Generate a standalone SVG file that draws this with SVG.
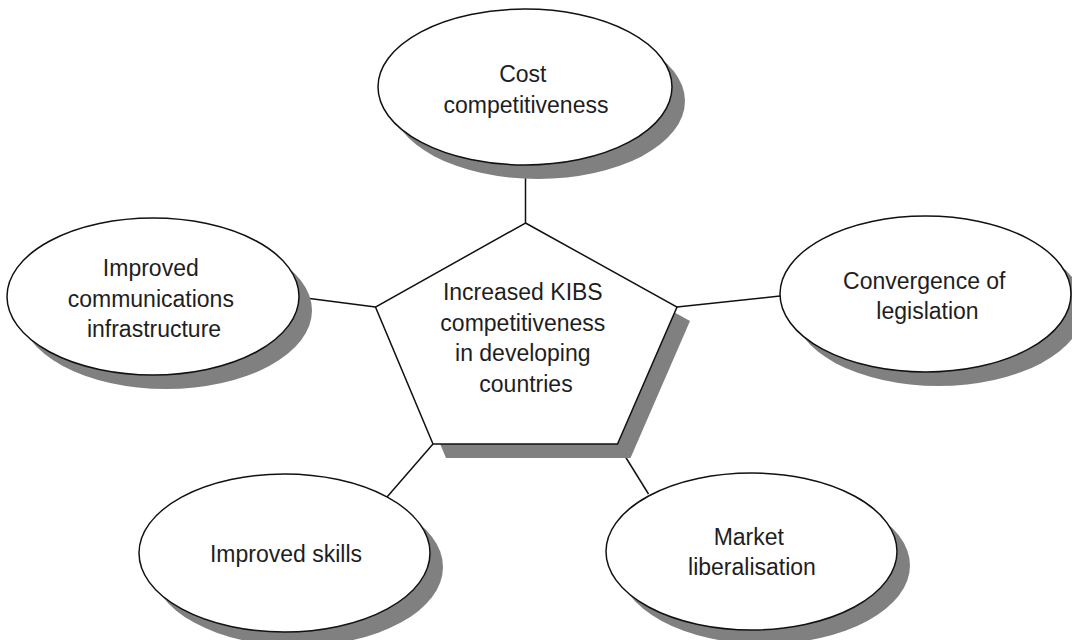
<svg xmlns="http://www.w3.org/2000/svg" width="1072" height="640" viewBox="0 0 1072 640">
  <style>
    .shadow { fill: #808080; stroke: none; }
    .shape { fill: #ffffff; stroke: #111111; stroke-width: 1.5; }
    .link { stroke: #111111; stroke-width: 1.5; fill: none; }
    .label { font-family: "Liberation Sans", Arial, sans-serif; font-size: 23px; fill: #1e1e1e; text-anchor: middle; }
  </style>
  <rect width="1072" height="640" fill="#ffffff"/>

  <!-- connectors between the centre pentagon and the outer ellipses -->
  <g id="connectors">
    <line class="link" x1="525.5" y1="165" x2="525.5" y2="223"/>
    <line class="link" x1="298" y1="297" x2="375.5" y2="307"/>
    <line class="link" x1="677" y1="307" x2="780" y2="296"/>
    <line class="link" x1="433" y1="444" x2="387" y2="497"/>
    <line class="link" x1="617.5" y1="444" x2="648.5" y2="494"/>
  </g>

  <g id="centre">
    <polygon class="shadow" points="538.5,237 690,321 630.5,458 446,458 388.5,321"/>
    <polygon class="shape" points="525.5,223 677,307 617.5,444 433,444 375.5,307"/>
    <text class="label">
      <tspan x="526" y="300">Increased KIBS</tspan>
      <tspan x="526" y="330.5">competitiveness</tspan>
      <tspan x="526" y="361">in developing</tspan>
      <tspan x="526" y="391.5">countries</tspan>
    </text>
  </g>

  <g id="cost">
    <ellipse class="shadow" cx="538" cy="101" rx="147" ry="78"/>
    <ellipse class="shape" cx="525" cy="87" rx="147" ry="78"/>
    <text class="label">
      <tspan x="526" y="82">Cost</tspan>
      <tspan x="526" y="112.5">competitiveness</tspan>
    </text>
  </g>

  <g id="communications">
    <ellipse class="shadow" cx="166" cy="310.5" rx="146" ry="78.5"/>
    <ellipse class="shape" cx="153" cy="296.5" rx="146" ry="78.5"/>
    <text class="label">
      <tspan x="154" y="276">Improved</tspan>
      <tspan x="154" y="306.5">communications</tspan>
      <tspan x="154" y="337">infrastructure</tspan>
    </text>
  </g>

  <g id="legislation">
    <ellipse class="shadow" cx="938.5" cy="308" rx="145.5" ry="78"/>
    <ellipse class="shape" cx="925.5" cy="294" rx="145.5" ry="78"/>
    <text class="label">
      <tspan x="927.5" y="288.5">Convergence of</tspan>
      <tspan x="927.5" y="319">legislation</tspan>
    </text>
  </g>

  <g id="skills">
    <ellipse class="shadow" cx="297.5" cy="567" rx="145.5" ry="79"/>
    <ellipse class="shape" cx="284.5" cy="553" rx="145.5" ry="79"/>
    <text class="label" x="286" y="562">Improved skills</text>
  </g>

  <g id="market">
    <ellipse class="shadow" cx="764.5" cy="565.5" rx="145.5" ry="78.5"/>
    <ellipse class="shape" cx="751.5" cy="551.5" rx="145.5" ry="78.5"/>
    <text class="label">
      <tspan x="752" y="545">Market</tspan>
      <tspan x="752" y="574.5">liberalisation</tspan>
    </text>
  </g>
</svg>
